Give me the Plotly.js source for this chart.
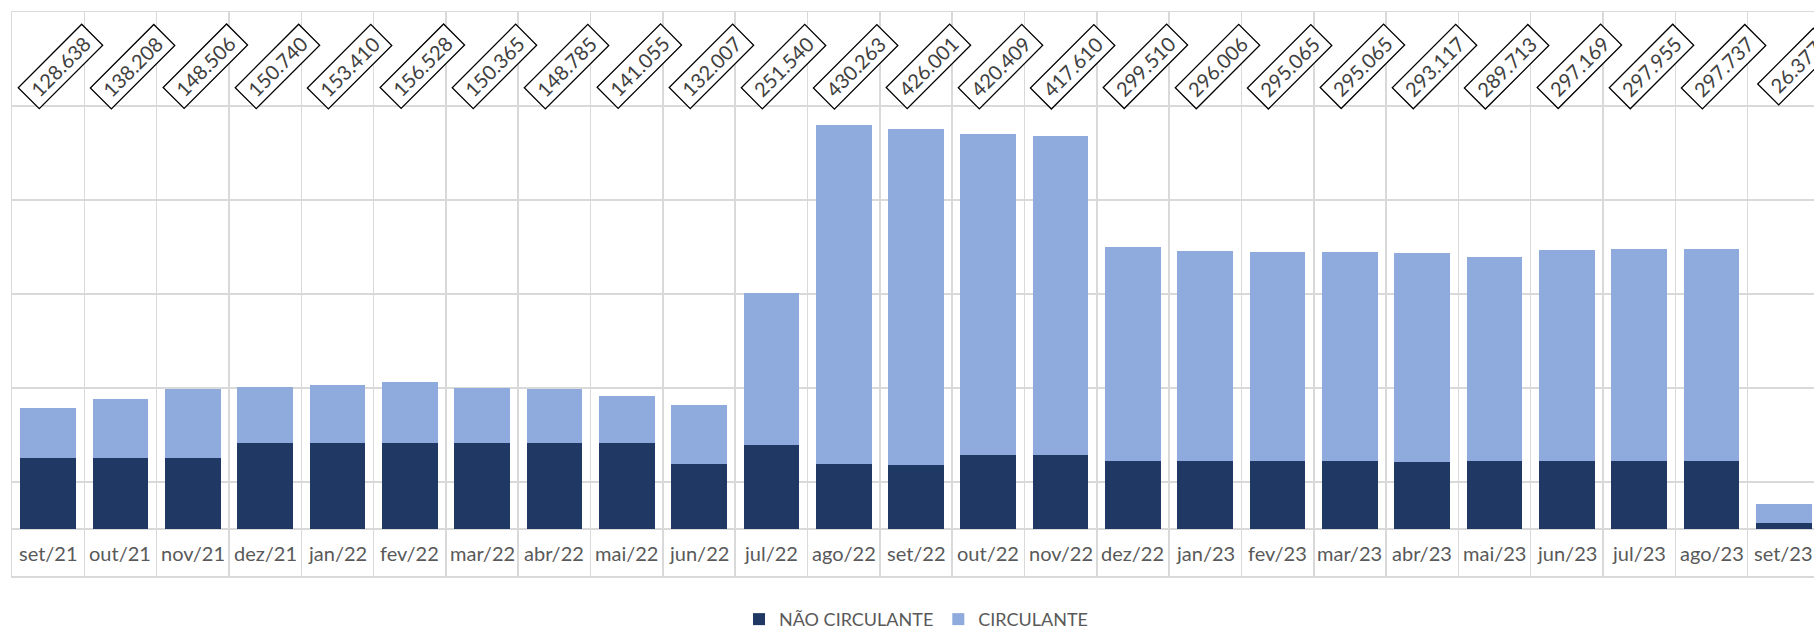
<!DOCTYPE html>
<html>
<head>
<meta charset="utf-8">
<script src="https://cdn.plot.ly/plotly-3.0.1.min.js"></script>
<style>
html,body{margin:0;padding:0;overflow:hidden;background:#fff;width:1814px;height:631px;}
#chart{width:1830px;height:631px;}
</style>
</head>
<body>
<div id="chart"></div>
<script>
const categories = ["set/21","out/21","nov/21","dez/21","jan/22","fev/22","mar/22","abr/22","mai/22","jun/22","jul/22","ago/22","set/22","out/22","nov/22","dez/22","jan/23","fev/23","mar/23","abr/23","mai/23","jun/23","jul/23","ago/23","set/23"];
const naoCirculante = [75800,75800,75800,91200,91200,91200,92000,92000,92000,69000,89500,69000,67700,79000,79000,72200,72200,72200,72200,71200,72200,72200,72200,72200,6000];
const circulante = [52838,62408,72706,59540,62210,65328,58365,56785,49055,63007,162040,361263,358301,341409,338610,227310,223806,222865,222865,221917,217513,224969,225755,225537,20377];

const fmt = v => v.toLocaleString('pt-BR');
const idx = categories.map((c,i)=>i);
const totals = idx.map(i => naoCirculante[i] + circulante[i]);

const FONT = "Lato, 'Open Sans', sans-serif";
const GRID = "#D9D9D9";

const traces = [
  {type:'bar', name:'NÃO CIRCULANTE', x: idx, y: naoCirculante, marker:{color:'#203864', line:{width:0}}},
  {type:'bar', name:'CIRCULANTE', x: idx, y: circulante, marker:{color:'#8FAADC', line:{width:0}}}
];

const annotations = [];
idx.forEach(i => {
  annotations.push({
    x: i + 0.17, y: 492000, xref:'x', yref:'y',
    text: '&nbsp;' + fmt(totals[i]) + '&nbsp;', showarrow:false, textangle:-45,
    font:{family:FONT, size:20, color:'#404040'},
    bgcolor:'#ffffff', bordercolor:'#000000', borderwidth:1.3, borderpad:2,
    xanchor:'center', yanchor:'middle'
  });
  annotations.push({
    x: i, y: -25000, xref:'x', yref:'y',
    text: categories[i], showarrow:false,
    font:{family:FONT, size:20, color:'#595959'},
    xanchor:'center', yanchor:'middle'
  });
});

const layout = {
  width:1830, height:631,
  margin:{l:12, r:10, t:12, b:55, autoexpand:false},
  paper_bgcolor:'#ffffff', plot_bgcolor:'#ffffff',
  barmode:'stack', bargap:0.23,
  showlegend:true,
  legend:{orientation:'h', x:0.5, xanchor:'center', y:-0.077, yanchor:'middle',
          traceorder:'normal', font:{family:FONT, size:18, color:'#595959'}},
  xaxis:{type:'linear', range:[-0.5, 24.5], tick0:-0.5, dtick:1, showgrid:true,
         gridcolor:GRID, gridwidth:1.5, showticklabels:false, ticks:'', zeroline:false,
         showline:true, mirror:true, linecolor:GRID, linewidth:1.5},
  yaxis:{range:[-50000, 550000], tick0:-50000, dtick:100000, showgrid:true,
         gridcolor:GRID, gridwidth:1.5, showticklabels:false, ticks:'',
         zeroline:true, zerolinecolor:GRID, zerolinewidth:1.5,
         showline:true, mirror:true, linecolor:GRID, linewidth:1.5},
  annotations: annotations
};

Plotly.newPlot('chart', traces, layout, {staticPlot:true, displayModeBar:false});
</script>
</body>
</html>
